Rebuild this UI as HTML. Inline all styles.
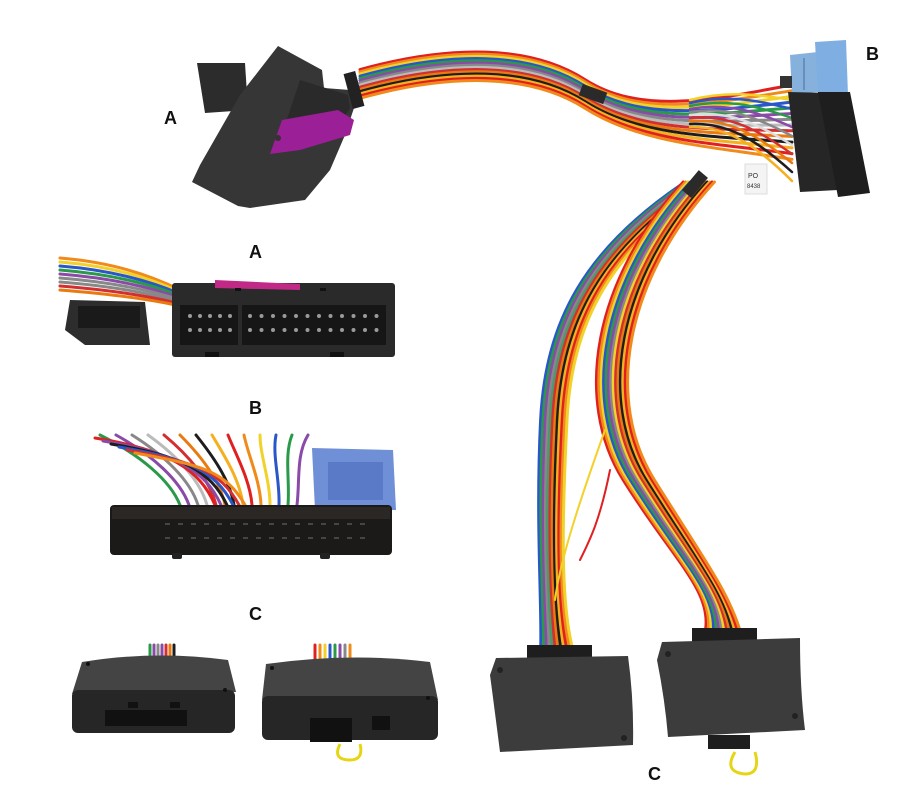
<!DOCTYPE html>
<html><head><meta charset="utf-8"><style>
html,body{margin:0;padding:0;background:#fff;}
svg{display:block}
.lbl{font-family:"Liberation Sans",sans-serif;font-weight:bold;font-size:18px;fill:#111}
</style></head><body>
<svg id="s" width="912" height="800" viewBox="0 0 912 800" xmlns="http://www.w3.org/2000/svg">
<rect width="912" height="800" fill="#fff"/>
<g id="wires" fill="none" stroke-linecap="round"></g>

<!-- top A connector -->
<polygon points="197,63 245,63 248,110 205,113" fill="#2c2c2c"/>
<polygon points="278,46 322,70 324,88 350,90 355,105 345,135 330,170 305,200 250,208 238,206 192,182 200,165 240,95" fill="#363636"/>
<polygon points="300,80 348,95 350,108 330,140 280,140" fill="#2a2a2a"/>
<polygon points="282,120 338,110 354,120 350,135 300,150 270,154" fill="#9b1f96"/>
<circle cx="278" cy="138" r="3" fill="#333"/>
<rect x="348" y="72" width="12" height="36" fill="#222" transform="rotate(-15 354 90)"/>

<!-- top B connector -->
<polygon points="790,55 818,52 818,92 792,94" fill="#86b1dd"/>
<polygon points="815,42 846,40 848,95 818,96" fill="#7fafe2"/>
<line x1="804" y1="58" x2="804" y2="90" stroke="#4a6a9a" stroke-width="1"/>
<polygon points="788,92 832,93 838,190 800,192" fill="#262626"/>
<polygon points="818,92 850,92 870,193 838,197" fill="#1e1e1e"/>
<rect x="780" y="76" width="12" height="12" fill="#333"/>
<rect x="745" y="164" width="22" height="30" fill="#f4f4f4" stroke="#ddd"/>
<text x="748" y="178" font-family="Liberation Sans,sans-serif" font-size="7" fill="#333">PO</text>
<text x="747" y="188" font-family="Liberation Sans,sans-serif" font-size="6" fill="#333">8438</text>
<rect x="682" y="178" width="26" height="12" fill="#2a2a2a" transform="rotate(-50 695 184)"/>
<rect x="580" y="88" width="26" height="12" fill="#2a2a2a" transform="rotate(20 593 94)"/>

<!-- middle A photo -->
<rect x="172" y="283" width="223" height="74" rx="3" fill="#2a2a2a"/>
<rect x="180" y="305" width="206" height="40" fill="#161616"/>
<polygon points="215,280 300,284 300,290 215,288" fill="#c02a86"/>
<polygon points="70,300 145,302 150,345 85,345 65,330" fill="#2d2d2d"/>
<rect x="78" y="306" width="62" height="22" fill="#1a1a1a"/>
<g id="pinsA" fill="#9a9a9a"></g>
<rect x="238" y="303" width="4" height="44" fill="#2a2a2a"/>
<rect x="205" y="352" width="14" height="5" fill="#111"/>
<rect x="330" y="352" width="14" height="5" fill="#111"/>
<rect x="235" y="288" width="6" height="3" fill="#111"/>
<rect x="320" y="288" width="6" height="3" fill="#111"/>

<!-- middle B photo -->
<polygon points="312,448 393,450 396,510 315,510" fill="#6f8fd6"/>
<rect x="328" y="462" width="55" height="38" fill="#5a7ac8"/>
<rect x="110" y="505" width="282" height="50" rx="4" fill="#1c1a19"/>
<rect x="112" y="507" width="278" height="12" fill="#2b2725"/>
<g id="pinsB" fill="#4a4440"></g>
<rect x="172" y="553" width="10" height="6" rx="2" fill="#222"/>
<rect x="320" y="553" width="10" height="6" rx="2" fill="#222"/>

<!-- C photo boxes -->
<path d="M82,662 Q155,650 228,660 L236,692 L72,694 Z" fill="#444"/>
<rect x="72" y="690" width="163" height="43" rx="6" fill="#262626"/>
<rect x="105" y="710" width="82" height="16" fill="#111"/>
<rect x="128" y="702" width="10" height="6" fill="#111"/><rect x="170" y="702" width="10" height="6" fill="#111"/>
<circle cx="88" cy="664" r="2" fill="#111"/><circle cx="225" cy="690" r="2" fill="#111"/>
<path d="M266,664 Q350,652 430,662 L438,700 L262,700 Z" fill="#444"/>
<rect x="262" y="696" width="176" height="44" rx="6" fill="#262626"/>
<rect x="310" y="718" width="42" height="24" fill="#111"/>
<rect x="372" y="716" width="18" height="14" fill="#111"/>
<circle cx="272" cy="668" r="2" fill="#111"/><circle cx="428" cy="698" r="2" fill="#111"/>
<path d="M340,744 q-8,16 10,16 q14,0 10,-16" fill="none" stroke="#e5d515" stroke-width="3"/>

<!-- right C boxes -->
<rect x="527" y="645" width="65" height="18" fill="#1e1e1e"/>
<path d="M496,658 L628,656 Q634,700 633,745 L500,752 Q494,705 490,675 Z" fill="#3c3c3c"/>
<circle cx="500" cy="670" r="3" fill="#222"/><circle cx="624" cy="738" r="3" fill="#222"/>
<rect x="692" y="628" width="65" height="18" fill="#1e1e1e"/>
<path d="M662,642 L800,638 Q800,690 805,730 L668,737 Q665,700 657,660 Z" fill="#3c3c3c"/>
<circle cx="668" cy="654" r="3" fill="#222"/><circle cx="795" cy="716" r="3" fill="#222"/>
<rect x="708" y="735" width="42" height="14" fill="#1e1e1e"/>
<path d="M735,752 q-12,20 10,22 q16,0 10,-22" fill="none" stroke="#e5d515" stroke-width="3"/>

<text class="lbl" x="164" y="124">A</text>
<text class="lbl" x="866" y="60">B</text>
<text class="lbl" x="249" y="258">A</text>
<text class="lbl" x="249" y="414">B</text>
<text class="lbl" x="249" y="620">C</text>
<text class="lbl" x="648" y="780">C</text>
</svg>
<script>
var NS='http://www.w3.org/2000/svg';
var cols=["#e02020","#f08a1a","#f2d12a","#2a57c8","#2a9a4a","#8a4aa8","#888","#fff0","#d23030","#e87a10","#1d1d1d","#f5b020"];
var g=document.getElementById('wires');
function add(d,c,w){var p=document.createElementNS(NS,'path');p.setAttribute('d',d);p.setAttribute('stroke',c);p.setAttribute('stroke-width',w);g.appendChild(p);}
for(var i=0;i<14;i++){var o=(i-7)*2.2;var c=cols[i%cols.length];if(c=="#fff0")c="#bbb";
 add('M360,'+(85+o)+' C450,'+(60+o)+' 530,'+(60+o)+' 585,'+(95+o)+' C640,'+(130+o)+' 710,'+(125+o*1.6)+' 792,'+(125+o*2.6),c,3);}
for(var i=0;i<12;i++){var o=(i-6)*2.4;var c=cols[(i+3)%cols.length];if(c=="#fff0")c="#4a9a6a";
 add('M'+(695+o)+',185 C'+(600+o)+',250 '+(560+o)+',320 '+(555+o)+',420 C'+(550+o)+',520 '+(552+o*0.7)+',600 '+(558+o*1.2)+',648',c,3);}
for(var i=0;i<14;i++){var o=(i-7)*2.4;var c=cols[i%cols.length];if(c=="#fff0")c="#f2d12a";
 add('M'+(700+o)+',182 C'+(610+o)+',280 '+(590+o)+',400 '+(640+o)+',480 C'+(690+o)+',560 '+(720+o*0.5)+',590 '+(724+o*1.1)+',630',c,3);}
add('M605,430 C580,500 560,560 555,600','#f2d12a',2);
add('M610,470 C600,520 590,540 580,560','#e02020',2);
for(var i=0;i<10;i++){var c=cols[(i+2)%cols.length];if(c=="#fff0")c="#ddd";
 add('M690,'+(100+i*3)+' C730,'+(90+i*4)+' 760,'+(95+i*6)+' 792,'+(100+i*9),c,2.5);}
for(var i=0;i<9;i++){var c=cols[(i+1)%cols.length];if(c=="#fff0")c="#888";
 add('M60,'+(258+i*4)+' C110,'+(262+i*4)+' 150,'+(275+i*3)+' 180,'+(290+i*2),c,3);}
for(var i=0;i<14;i++){var c=cols[(i+4)%cols.length];if(c=="#fff0")c="#bbb";
 add('M'+(100+i*16)+',435 C'+(140+i*12)+',455 '+(170+i*10)+',480 '+(180+i*9)+',505',c,3);}
for(var i=0;i<6;i++){var c=cols[(i*5)%cols.length];if(c=="#fff0")c="#999";
 add('M'+(95+i*8)+','+(438+i*3)+' C'+(170+i*6)+','+(450+i*3)+' '+(200+i*5)+',470 '+(215+i*6)+',505',c,3);}
for(var i=0;i<7;i++){var c=cols[(i+4)%cols.length];if(c=="#fff0")c="#8a4aa8";add('M'+(150+i*4)+',645 L'+(150+i*4)+',662',c,3);}
for(var i=0;i<8;i++){var c=cols[i%cols.length];if(c=="#fff0")c="#f08a1a";add('M'+(315+i*5)+',645 L'+(315+i*5)+',662',c,3);}
// pins
var pa=document.getElementById('pinsA');
for(var r=0;r<2;r++){for(var k=0;k<5;k++){var e=document.createElementNS(NS,'circle');e.setAttribute('cx',190+k*10);e.setAttribute('cy',316+r*14);e.setAttribute('r',2);pa.appendChild(e);}
 for(var k=0;k<12;k++){var e=document.createElementNS(NS,'circle');e.setAttribute('cx',250+k*11.5);e.setAttribute('cy',316+r*14);e.setAttribute('r',2);pa.appendChild(e);}}
var pb=document.getElementById('pinsB');
for(var r=0;r<2;r++){for(var k=0;k<16;k++){var e=document.createElementNS(NS,'rect');e.setAttribute('x',165+k*13);e.setAttribute('y',523+r*14);e.setAttribute('width',5);e.setAttribute('height',2);pb.appendChild(e);}}
</script>
</body></html>
